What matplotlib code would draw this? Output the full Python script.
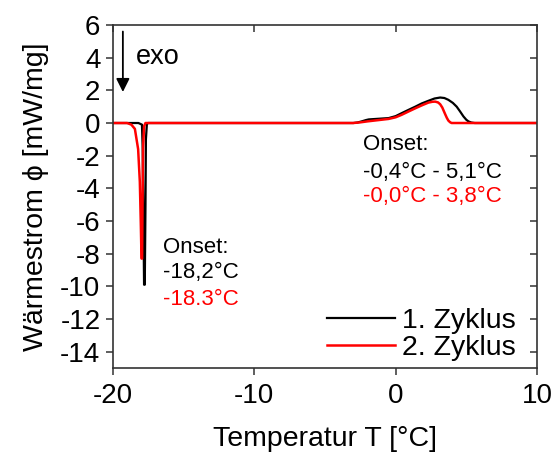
import matplotlib
matplotlib.use("Agg")
import matplotlib.pyplot as plt

plt.rcParams["font.family"] = ["Liberation Sans", "DejaVu Sans"]
plt.rcParams["axes.unicode_minus"] = False

# DSC heating curves, temperature in °C and heat flow in mW/mg
t_cycle1 = [-20.0, -18.2, -17.95, -17.9, -17.85, -17.8, -17.75, -17.7, -17.67, -17.6, -17.5,
            -3.0, -2.7, -2.4, -2.1, -1.9, -1.2, -0.5, 0.0, 0.42, 0.9, 1.39, 1.85, 2.32, 2.75,
            3.15, 3.45, 3.73, 4.05, 4.32, 4.55, 4.8, 5.0, 5.15, 5.35, 5.6, 10.0]
q_cycle1 = [0.0, 0.0, -0.1, -1.5, -5.5, -9.9, -9.9, -5.0, -1.0, -0.05, 0.0,
            0.0, 0.03, 0.1, 0.18, 0.22, 0.26, 0.3, 0.42, 0.6, 0.8, 1.0, 1.2, 1.36, 1.5,
            1.56, 1.53, 1.42, 1.23, 1.0, 0.72, 0.4, 0.2, 0.1, 0.03, 0.0, 0.0]

t_cycle2 = [-20.0, -19.0, -18.7, -18.45, -18.22, -18.1, -18.03, -17.98, -17.94, -17.91, -17.87,
            -17.8, -17.7, -3.0, -2.5, -2.0, -1.2, -0.5, 0.0, 0.42, 0.9, 1.39, 1.85, 2.32,
            2.6, 2.8, 3.0, 3.15, 3.3, 3.5, 3.62, 3.73, 3.85, 3.96, 4.2, 10.0]
q_cycle2 = [0.0, 0.0, -0.1, -0.36, -1.6, -3.6, -6.2, -8.3, -8.3, -5.0, -1.5,
            -0.2, 0.0, 0.0, 0.04, 0.1, 0.18, 0.25, 0.35, 0.5, 0.7, 0.9, 1.08, 1.25,
            1.3, 1.31, 1.26, 1.15, 0.95, 0.55, 0.32, 0.15, 0.05, 0.0, 0.0, 0.0]

labels = ["1. Zyklus", "2. Zyklus"]
x_ticks = [-20, -10, 0, 10]
y_ticks = list(range(-14, 7, 2))

fig = plt.figure(figsize=(5.53, 4.53), dpi=100)
ax = fig.add_axes([0.2043, 0.1876, 0.7667, 0.7572])

ax.plot(t_cycle1, q_cycle1, color="black", lw=1.6, label=labels[0])
ax.plot(t_cycle2, q_cycle2, color="#ff0000", lw=1.8, label=labels[1])

ax.set_xlim(-20, 10)
ax.set_ylim(-15, 6)
ax.set_xticks(x_ticks)
ax.set_yticks(y_ticks)

for side in ["left", "right", "top", "bottom"]:
    ax.spines[side].set_color("#333333")
    ax.spines[side].set_linewidth(1.2)

ax.tick_params(axis="both", which="major", labelsize=20, length=5, width=1.1,
               color="#333333", pad=4)
ax.tick_params(axis="x", direction="out", pad=6)
ax.tick_params(axis="y", direction="out")

# Inward ticks on the opposite spines
ax_top = ax.secondary_xaxis("top")
ax_top.set_xticks(x_ticks)
ax_top.tick_params(direction="in", length=5, width=1.1, color="#333333", labeltop=False)
ax_top.spines["top"].set_visible(False)
ax_right = ax.secondary_yaxis("right")
ax_right.set_yticks(y_ticks)
ax_right.tick_params(direction="in", length=5, width=1.1, color="#333333", labelright=False)
ax_right.spines["right"].set_visible(False)

ax.set_xlabel("Temperatur T [°C]", fontsize=20.5, labelpad=12)
ax.set_ylabel("Wärmestrom \u03d5 [mW/mg]", fontsize=20.5, labelpad=8)

# exo direction marker
ax.annotate("", xy=(-19.3, 1.9), xytext=(-19.3, 5.6),
            arrowprops=dict(arrowstyle="-|>", color="black", lw=1.3,
                            mutation_scale=20, shrinkA=0, shrinkB=0))
ax.text(-18.35, 4.05, "exo", fontsize=19.5, va="center", ha="left")

# Onset annotations
ax.text(-16.45, -7.6, "Onset:", fontsize=16, va="center", ha="left")
ax.text(-16.45, -9.15, "-18,2°C", fontsize=16, va="center", ha="left")
ax.text(-16.45, -10.8, "-18.3°C", fontsize=16, va="center", ha="left", color="#ff0000")

ax.text(-2.3, -1.3, "Onset:", fontsize=16, va="center", ha="left")
ax.text(-2.3, -3.0, "-0,4°C - 5,1°C", fontsize=16, va="center", ha="left")
ax.text(-2.3, -4.5, "-0,0°C - 3,8°C", fontsize=16, va="center", ha="left", color="#ff0000")

ax.legend(loc="lower right", bbox_to_anchor=(0.95, 0.02), frameon=False,
          fontsize=20.5, handlelength=2.4, handletextpad=0.25,
          labelspacing=0.05, borderpad=0, borderaxespad=0)

fig.savefig("out.png", dpi=100)
